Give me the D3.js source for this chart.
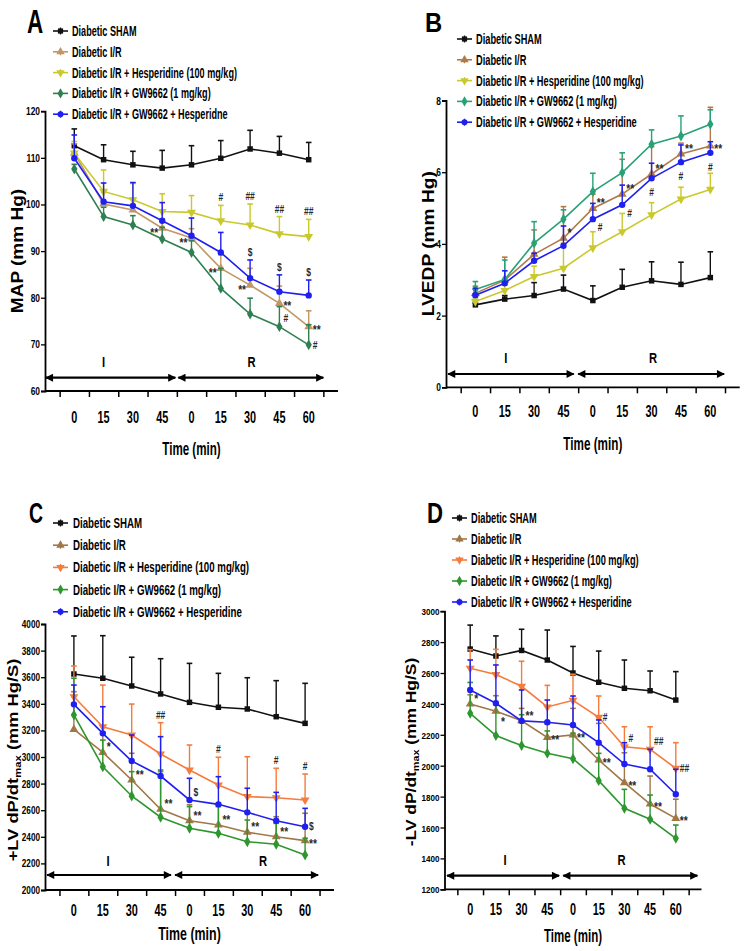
<!DOCTYPE html>
<html><head><meta charset="utf-8">
<script src="https://cdn.jsdelivr.net/npm/d3@7"></script>
<style>
html,body{margin:0;padding:0;background:#fff;}
svg{display:block;font-family:"Liberation Sans",Arial,Helvetica,sans-serif;}
</style></head><body>
<svg id="chart" width="745" height="951"></svg>
<script>
// ================= DATA =================
const timeLabels = ["0","15","30","45","0","15","30","45","60"];
const seriesKeys = ["sham","ir","hesp","gw","gwh"];
const legendNamesA = ["Diabetic SHAM","Diabetic I/R","Diabetic I/R + Hesperidine (100 mg/kg)","Diabetic I/R + GW9662 (1 mg/kg)","Diabetic I/R + GW9662 + Hesperidne"];
const legendNamesBCD = ["Diabetic SHAM","Diabetic I/R","Diabetic I/R + Hesperidine (100 mg/kg)","Diabetic I/R + GW9662 (1 mg/kg)","Diabetic I/R + GW9662 + Hesperidine"];

// Panel A: MAP (mm Hg)  mean and SEM (upward)
const mapSham    = [112.6,109.6,108.5,107.8,108.5,109.9,111.9,111.0,109.6];
const mapShamErr = [3.6,3.2,2.9,3.8,4.1,3.8,4.0,3.6,3.7];
const mapIR      = [111.0,100.1,98.8,94.9,92.8,86.3,82.7,78.8,73.8];
const mapIRErr   = [2.0,2.5,2.5,2.0,2.0,2.9,3.6,3.7,3.4];
const mapHesp    = [111.0,102.8,101.0,98.5,98.3,96.5,95.6,93.7,93.1];
const mapHespErr = [2.5,4.6,3.5,3.8,3.6,3.3,4.5,3.7,3.7];
const mapGW      = [107.6,97.4,95.6,92.6,89.7,82.0,76.5,73.8,69.9];
const mapGWErr   = [1.0,2.0,2.0,2.5,2.5,4.3,3.4,4.3,4.3];
const mapGWH     = [109.9,100.6,99.7,96.5,93.3,89.7,84.2,81.3,80.5];
const mapGWHErr  = [5.0,4.0,5.0,3.9,3.8,4.3,3.9,3.6,3.3];

// Panel B: LVEDP (mm Hg)
const lvedpSham    = [2.30,2.46,2.56,2.74,2.42,2.79,2.97,2.87,3.06];
const lvedpShamErr = [0.05,0.10,0.36,0.39,0.41,0.50,0.53,0.62,0.72];
const lvedpIR      = [2.62,2.99,3.71,4.16,4.99,5.39,5.95,6.51,6.73];
const lvedpIRErr   = [0.20,0.64,0.68,0.88,0.40,0.97,0.76,0.30,1.08];
const lvedpHesp    = [2.39,2.70,3.09,3.32,3.89,4.34,4.81,5.25,5.52];
const lvedpHespErr = [0.10,0.15,0.29,0.70,0.45,0.51,0.34,0.33,0.45];
const lvedpGW      = [2.73,3.01,4.02,4.69,5.46,5.99,6.78,7.01,7.34];
const lvedpGWErr   = [0.22,0.54,0.60,0.26,0.51,0.55,0.40,0.56,0.40];
const lvedpGWH     = [2.57,2.90,3.53,3.95,4.69,5.09,5.83,6.28,6.54];
const lvedpGWHErr  = [0.19,0.35,0.21,0.55,0.44,0.55,0.42,0.48,0.31];

// Panel C: +LV dP/dt max (mm Hg/S)
const plusSham    = [3624,3592,3534,3474,3411,3374,3361,3303,3253];
const plusShamErr = [286,320,216,265,293,255,235,271,301];
const plusIR      = [3208,3035,2827,2607,2521,2489,2434,2401,2371];
const plusIRErr   = [283,150,201,283,120,150,150,150,206];
const plusHesp    = [3453,3227,3165,3023,2902,2789,2702,2694,2677];
const plusHespErr = [231,314,233,235,188,209,300,221,195];
const plusGW      = [3316,2927,2707,2547,2464,2426,2363,2344,2263];
const plusGWErr   = [276,200,183,355,163,201,163,157,126];
const plusGWH     = [3396,3178,2970,2857,2677,2644,2584,2521,2476];
const plusGWHErr  = [145,200,195,296,163,208,181,213,138];

// Panel D: -LV dP/dt max (mm Hg/S)
const minusSham    = [2755,2710,2746,2684,2600,2540,2501,2485,2425];
const minusShamErr = [155,130,137,194,172,202,183,128,184];
const minusIR      = [2399,2353,2291,2183,2199,2037,1890,1752,1659];
const minusIRErr   = [60,100,80,87,172,237,194,181,124];
const minusHesp    = [2631,2590,2514,2380,2423,2313,2123,2106,1983];
const minusHespErr = [120,163,162,140,169,138,129,146,166];
const minusGW      = [2339,2195,2130,2080,2045,1903,1724,1653,1530];
const minusGWErr   = [200,200,200,145,165,177,123,157,86];
const minusGWH     = [2490,2404,2290,2281,2263,2149,2011,1977,1815];
const minusGWHErr  = [194,248,200,144,188,147,138,129,162];

// significance marks: [series, time index, symbol, placement]
const mapMarks = [["ir",3,"**","left"],["ir",4,"**","left"],["ir",5,"**","left"],["ir",6,"**","left"],["ir",7,"**","right"],["ir",8,"**","right"],
  ["gw",7,"#","upright"],["gw",8,"#","right"],["gwh",6,"$","up"],["gwh",7,"$","up"],["gwh",8,"$","up"],
  ["hesp",5,"#","up"],["hesp",6,"##","up"],["hesp",7,"##","up"],["hesp",8,"##","up"]];
const lvedpMarks = [["ir",3,"*","upright"],["ir",4,"**","upright"],["ir",5,"**","upright"],["ir",6,"**","upright"],["ir",7,"**","upright"],["ir",8,"**","right"],
  ["gwh",4,"#","rightdown"],["gwh",5,"#","rightdown"],["gwh",6,"#","below"],["gwh",7,"#","below"],["gwh",8,"#","below"]];
const plusMarks = [["ir",1,"*","upright"],["ir",2,"**","upright"],["hesp",3,"##","up"],["ir",3,"**","upright"],["gwh",4,"$","upright"],["ir",4,"**","upright"],
  ["hesp",5,"#","up"],["ir",5,"**","upright"],["ir",6,"**","upright"],["hesp",7,"#","up"],["ir",7,"**","upright"],["hesp",8,"#","up"],["gwh",8,"$","right"],["ir",8,"**","right"]];
const minusMarks = [["ir",0,"*","upright"],["ir",1,"*","rightdown"],["ir",2,"**","upright"],["ir",3,"**","right"],["ir",4,"**","right"],["hesp",5,"#","right"],
  ["ir",5,"**","right"],["hesp",6,"#","upright"],["ir",6,"**","right"],["hesp",7,"##","upright"],["ir",7,"**","right"],["hesp",8,"##","right"],["ir",8,"**","right"]];

// ================= DRAWING =================
const svg = d3.select("#chart");
svg.append("rect").attr("width",745).attr("height",951).attr("fill","#fff");
const defs = svg.append("defs");
defs.append("marker").attr("id","ah").attr("viewBox","0 0 10 10").attr("refX",9).attr("refY",5)
  .attr("markerWidth",9).attr("markerHeight",8).attr("markerUnits","userSpaceOnUse").attr("orient","auto-start-reverse")
  .append("path").attr("d","M0,0 L10,5 L0,10 Z").attr("fill","#000");

function T(g, x, y, s, o) {
  o = o || {};
  return g.append("text")
    .attr("transform", `translate(${x},${y})` + (o.rot ? ` rotate(${o.rot})` : "") + ` scale(${o.sx||1},1)`)
    .attr("text-anchor", o.anchor || "start")
    .style("font-size", (o.size||12) + "px")
    .style("font-weight", o.weight || "bold")
    .style("fill", o.fill || "#000")
    .text(s);
}

const symbolOf = {sham:d3.symbolSquare, ir:d3.symbolTriangle, hesp:d3.symbolTriangle, gw:d3.symbolDiamond, gwh:d3.symbolCircle};
const symSize = {sham:30, ir:34, hesp:34, gw:34, gwh:32};
const symRot = {sham:0, ir:0, hesp:180, gw:0, gwh:0};

function drawPanel(P) {
  const g = svg.append("g");
  const L = P.layout;
  const x = d3.scaleLinear().domain([0,10]).range([L.x0, L.x0 + 10*L.w]);
  const y = d3.scaleLinear().domain(P.yDomain).range(L.yRange);
  const xAxisY = L.yRange[0];

  // y axis
  const yAxis = d3.axisLeft(y).tickValues(P.yTicks).tickSize(4).tickPadding(2).tickFormat(d => String(d));
  const ya = g.append("g").attr("transform",`translate(${L.x0},0)`).call(yAxis);
  ya.select(".domain").attr("stroke","#000").attr("stroke-width",1.8);
  ya.selectAll(".tick line").attr("stroke","#000").attr("stroke-width",1.3);
  ya.selectAll(".tick text").attr("x",null).attr("dy",null)
    .attr("transform",`translate(-5,3.5) scale(${L.ytickSx},1)`)
    .style("font-size",L.ytickSize+"px").style("font-weight","bold").style("font-family","inherit").attr("fill","#000");

  // x axis: ticks between points, labels under points
  const xTickPos = d3.range(10).map(k => k + 0.5);
  const xa = g.append("g").attr("transform",`translate(0,${xAxisY})`)
    .call(d3.axisBottom(x).tickValues(xTickPos).tickSize(6).tickFormat(""));
  xa.select(".domain").attr("stroke","#000").attr("stroke-width",1.8).attr("d",`M${L.x0},0H${L.x0+10*L.w}`);
  xa.selectAll(".tick line").attr("stroke","#000").attr("stroke-width",1.5);
  timeLabels.forEach((lab,i) => T(g, x(i+1), L.xlabY, lab, {size:16.5, sx:0.66, anchor:"middle"}));
  T(g, (x(0)+x(10))/2 + L.timeDx, L.timeY, "Time (min)", {size:L.timeSize, sx:L.timeSx, anchor:"middle"});

  // I / R arrows
  const ay = xAxisY - L.arrowUp;
  [[L.arrI[0],L.arrI[1]],[L.arrR[0],L.arrR[1]]].forEach(a => {
    g.append("line").attr("x1",x(a[0])).attr("x2",x(a[1])).attr("y1",ay).attr("y2",ay)
      .attr("stroke","#000").attr("stroke-width",2.2)
      .attr("marker-start","url(#ah)").attr("marker-end","url(#ah)");
  });
  T(g, x(L.labI), xAxisY - 24, "I", {size:14, sx:0.8, anchor:"middle"});
  T(g, x(L.labR), xAxisY - 24, "R", {size:14, sx:0.8, anchor:"middle"});

  // y title
  const yt = g.append("text")
    .attr("transform",`translate(${L.ytX},${L.ytY}) rotate(-90) scale(${L.ytStretch},1)`)
    .attr("text-anchor","middle").style("font-size",L.ytSize+"px").style("font-weight","bold");
  P.yTitle.forEach(part => {
    const ts = yt.append("tspan").text(part[0]);
    if (part[1]) ts.style("font-size",(L.ytSize*0.62)+"px").attr("dy",3);
    else if (part[2]) ts.attr("dy",-3);
  });

  // series
  const lineGen = d3.line().x((d,i) => x(i+1)).y(d => y(d));
  seriesKeys.forEach(k => {
    const vals = P.data[k][0], errs = P.data[k][1], col = P.colors[k];
    const sg = g.append("g");
    vals.forEach((v,i) => {
      const top = y(v + errs[i]);
      sg.append("line").attr("x1",x(i+1)).attr("x2",x(i+1)).attr("y1",y(v)).attr("y2",top).attr("stroke",col).attr("stroke-width",1.4);
      sg.append("line").attr("x1",x(i+1)-2.8).attr("x2",x(i+1)+2.8).attr("y1",top).attr("y2",top).attr("stroke",col).attr("stroke-width",1.6);
    });
    sg.append("path").datum(vals).attr("d",lineGen).attr("fill","none").attr("stroke",col).attr("stroke-width",1.6);
    const sym = d3.symbol().type(symbolOf[k]).size(symSize[k]);
    vals.forEach((v,i) => {
      sg.append("path").attr("d",sym()).attr("fill",col)
        .attr("transform",`translate(${x(i+1)},${y(v)}) rotate(${symRot[k]})`);
    });
  });

  // significance marks
  P.marks.forEach(m => {
    const k = m[0], i = m[1], s = m[2], pl = m[3];
    const v = P.data[k][0][i], e = P.data[k][1][i];
    const px = x(i+1), py = y(v);
    const isAst = s.indexOf("*") >= 0;
    const size = isAst ? 12 : 10;
    const base = isAst ? 7 : 3.8;
    let tx, ty, anchor;
    if (pl === "left")      { tx = px - 4; ty = py + base + 2; anchor = "end"; }
    else if (pl === "right"){ tx = px + 4; ty = py + base; anchor = "start"; }
    else if (pl === "upright"){ tx = px + 4; ty = py - 8 + base; anchor = "start"; }
    else if (pl === "rightdown"){ tx = px + 5; ty = py + 8 + base; anchor = "start"; }
    else if (pl === "below"){ tx = px; ty = py + 14 + base; anchor = "middle"; }
    else { tx = px; ty = y(v + e) - 4; anchor = "middle"; if (isAst) ty += 3; }
    T(g, tx, ty, s, {size:size, sx:0.85, anchor:anchor, fill:"#2a2a2a", weight:"bold"});
  });

  // legend
  P.names.forEach((nm,j) => {
    const k = seriesKeys[j], col = P.colors[k];
    const cy = L.lgY0 + j*L.lgDy;
    g.append("line").attr("x1",L.lgMx).attr("x2",L.lgMx+15).attr("y1",cy).attr("y2",cy).attr("stroke",col).attr("stroke-width",1.6);
    g.append("line").attr("x1",L.lgMx+7.5).attr("x2",L.lgMx+7.5).attr("y1",cy-3.5).attr("y2",cy+3.5).attr("stroke",col).attr("stroke-width",1.3);
    g.append("path").attr("d",d3.symbol().type(symbolOf[k]).size(symSize[k]*0.9)()).attr("fill",col)
      .attr("transform",`translate(${L.lgMx+7.5},${cy}) rotate(${symRot[k]})`);
    T(g, L.lgTx, cy + 5, nm, {size:L.lgSize, sx:L.lgSx});
  });

  // panel letter
  T(g, L.letX, L.letY, P.letter, {size:L.letSize, sx:L.letSx});
}

const colorsAB = {sham:"#111111", ir:"#c39765", hesp:"#c9c92e", gw:"#2e7f52", gwh:"#1f1ff0"};
const colorsB  = {sham:"#111111", ir:"#b07a48", hesp:"#c9c92e", gw:"#27a277", gwh:"#1f1ff0"};
const colorsCD = {sham:"#111111", ir:"#a07848", hesp:"#f47c3c", gw:"#2e962e", gwh:"#1f1ff0"};

drawPanel({
  letter:"A", names:legendNamesA, colors:colorsAB, marks:mapMarks,
  data:{sham:[mapSham,mapShamErr], ir:[mapIR,mapIRErr], hesp:[mapHesp,mapHespErr], gw:[mapGW,mapGWErr], gwh:[mapGWH,mapGWHErr]},
  yDomain:[60,120], yTicks:d3.range(60,121,10), yTitle:[["MAP (mm Hg)"]],
  layout:{x0:45, w:29.3, yRange:[391,111.2], ytickSize:10.5, ytickSx:0.8,
    xlabY:422.5, timeY:455, timeSize:19, timeSx:0.61, timeDx:0,
    arrowUp:13.3, arrI:[0.03,4.45], arrR:[4.55,9.5], labI:2.0, labR:7.05,
    ytX:23, ytY:251, ytSize:16, ytStretch:1.19,
    lgMx:53, lgTx:72, lgY0:31, lgDy:20.8, lgSize:14, lgSx:0.65,
    letX:27, letY:33, letSize:33, letSx:0.68}
});
drawPanel({
  letter:"B", names:legendNamesBCD, colors:colorsB, marks:lvedpMarks,
  data:{sham:[lvedpSham,lvedpShamErr], ir:[lvedpIR,lvedpIRErr], hesp:[lvedpHesp,lvedpHespErr], gw:[lvedpGW,lvedpGWErr], gwh:[lvedpGWH,lvedpGWHErr]},
  yDomain:[0,8], yTicks:[0,2,4,6,8], yTitle:[["LVEDP (mm Hg)"]],
  layout:{x0:446, w:29.37, yRange:[387.3,100.5], ytickSize:10.5, ytickSx:0.8,
    xlabY:417.3, timeY:450, timeSize:18.6, timeSx:0.63, timeDx:0,
    arrowUp:13.3, arrI:[0.07,4.35], arrR:[4.5,9.47], labI:2.04, labR:7.05,
    ytX:433.7, ytY:243.7, ytSize:16, ytStretch:1.2,
    lgMx:457, lgTx:476, lgY0:39, lgDy:20.8, lgSize:14, lgSx:0.66,
    letX:425, letY:32, letSize:28, letSx:0.85}
});
drawPanel({
  letter:"C", names:legendNamesBCD, colors:colorsCD, marks:plusMarks,
  data:{sham:[plusSham,plusShamErr], ir:[plusIR,plusIRErr], hesp:[plusHesp,plusHespErr], gw:[plusGW,plusGWErr], gwh:[plusGWH,plusGWHErr]},
  yDomain:[2000,4000], yTicks:d3.range(2000,4001,200), yTitle:[["+LV dP/dt"],["max",true],[" (mm Hg/S)",false,true]],
  layout:{x0:45, w:28.9, yRange:[890,624], ytickSize:10, ytickSx:0.82,
    xlabY:916, timeY:940, timeSize:18, timeSx:0.69, timeDx:0,
    arrowUp:15, arrI:[0.07,4.36], arrR:[4.5,9.45], labI:2.18, labR:7.54,
    ytX:17.5, ytY:760, ytSize:15, ytStretch:1.22,
    lgMx:53, lgTx:73, lgY0:523, lgDy:22.2, lgSize:14.5, lgSx:0.67,
    letX:29, letY:523, letSize:30, letSx:0.65}
});
drawPanel({
  letter:"D", names:legendNamesBCD, colors:colorsCD, marks:minusMarks,
  data:{sham:[minusSham,minusShamErr], ir:[minusIR,minusIRErr], hesp:[minusHesp,minusHespErr], gw:[minusGW,minusGWErr], gwh:[minusGWH,minusGWHErr]},
  yDomain:[1200,3000], yTicks:d3.range(1200,3001,200), yTitle:[["-LV dP/dt"],["max",true],[" (mm Hg/S)",false,true]],
  layout:{x0:444.5, w:25.7, yRange:[889.3,611.2], ytickSize:9.5, ytickSx:0.85,
    xlabY:915, timeY:942, timeSize:18, timeSx:0.64, timeDx:0,
    arrowUp:13.6, arrI:[0.1,4.46], arrR:[4.62,9.84], labI:2.36, labR:6.89,
    ytX:415.5, ytY:752, ytSize:15, ytStretch:1.16,
    lgMx:452, lgTx:471, lgY0:518, lgDy:21, lgSize:14, lgSx:0.66,
    letX:427, letY:523, letSize:30, letSx:0.74}
});
</script>
</body></html>
